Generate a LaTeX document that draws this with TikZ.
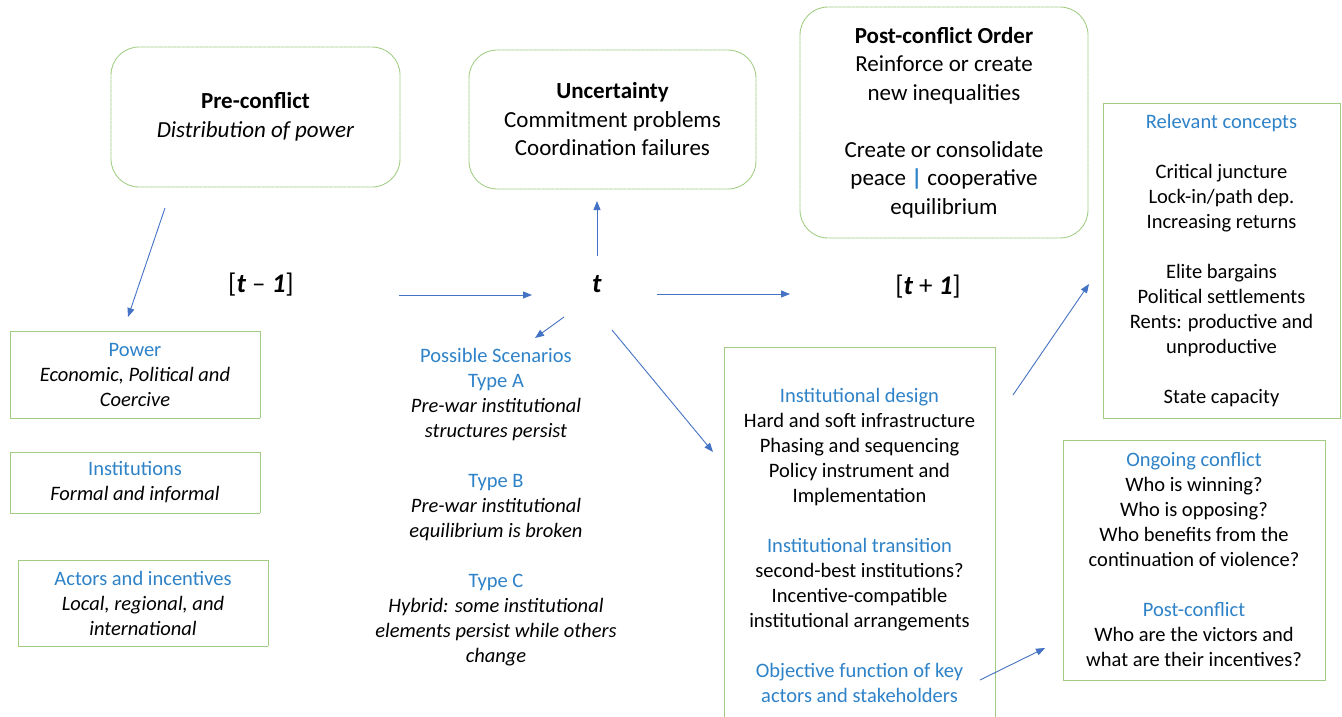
\documentclass[tikz,border=0pt]{standalone}
\usepackage{fontspec}
\setmainfont{Carlito}
\usetikzlibrary{arrows.meta}
\definecolor{boxgreen}{RGB}{160,205,130}
\definecolor{headblue}{RGB}{46,130,200}
\definecolor{arrowblue}{RGB}{68,114,196}
\newcommand{\hb}[1]{\textcolor{headblue}{#1}}
\begin{document}
\begin{tikzpicture}[x=1pt,y=-1pt,
  bigtxt/.style={font=\fontsize{23}{28.5}\selectfont, align=center, inner sep=0pt},
  smalltxt/.style={font=\fontsize{20.5}{25}\selectfont, align=center, inner sep=0pt},
  roundbox/.style={bigtxt, draw=boxgreen, line width=0.9pt, dash pattern=on 0.6pt off 0.3pt, rounded corners=28pt},
  sqbox/.style={smalltxt, draw=boxgreen, line width=0.9pt, dash pattern=on 0.6pt off 0.3pt},
  timelbl/.style={font=\fontsize{27}{32}\selectfont, inner sep=0pt},
  arr/.style={draw=arrowblue, line width=0.9pt, -{Triangle[length=9pt,width=7pt]}}
]
\useasboundingbox (0,0) rectangle (1342,716);

% top rounded boxes
\node[roundbox, minimum width=289pt, minimum height=140pt] (pre) at (255.5,117)
  {\textbf{Pre-conflict}\\ \textit{Distribution of power}};
\node[roundbox, minimum width=287pt, minimum height=139pt] (unc) at (612.5,119.5)
  {\textbf{Uncertainty}\\ Commitment problems\\ Coordination failures};
\node[roundbox, minimum width=288pt, minimum height=231pt] (post) at (944,122.5)
  {\textbf{Post-conflict Order}\\ Reinforce or create\\ new inequalities\\[28.5pt]
   Create or consolidate\\ peace \textcolor{headblue}{\textbf{|}} cooperative\\ equilibrium};

% right boxes
\node[sqbox, minimum width=237pt, minimum height=315pt] (rel) at (1221.5,260.5)
  {\hb{Relevant concepts}\\[25pt] Critical juncture\\ Lock-in/path dep.\\ Increasing returns\\[25pt]
   Elite bargains\\ Political settlements\\ Rents: productive and\\ unproductive\\[25pt] State capacity};
\node[sqbox, minimum width=262pt, minimum height=240pt] (ong) at (1194,560)
  {\hb{Ongoing conflict}\\ Who is winning?\\ Who is opposing?\\ Who benefits from the\\
   continuation of violence?\\[25pt] \hb{Post-conflict}\\ Who are the victors and\\ what are their incentives?};

% institutional design box
\node[sqbox, minimum width=271pt, minimum height=397pt] (inst) at (859.5,545.5)
  {\hb{Institutional design}\\ Hard and soft infrastructure\\ Phasing and sequencing\\ Policy instrument and\\
   Implementation\\[25pt] \hb{Institutional transition}\\ second-best institutions?\\ Incentive-compatible\\
   institutional arrangements\\[25pt] \hb{Objective function of key}\\ \hb{actors and stakeholders}};

% left boxes
\node[sqbox, minimum width=250pt, minimum height=87pt] (pow) at (135,374.5)
  {\hb{Power}\\ \textit{Economic, Political and}\\ \textit{Coercive}};
\node[sqbox, minimum width=250pt, minimum height=61pt] (ins) at (135,482.5)
  {\hb{Institutions}\\ \textit{Formal and informal}};
\node[sqbox, minimum width=250pt, minimum height=86pt] (act) at (143,603)
  {\hb{Actors and incentives}\\ \textit{Local, regional, and}\\ \textit{international}};

% scenarios text
\node[smalltxt] (scen) at (496,507.5)
  {\hb{Possible Scenarios}\\ \hb{Type A}\\ \textit{Pre-war institutional}\\ \textit{structures persist}\\[25pt]
   \hb{Type B}\\ \textit{Pre-war institutional}\\ \textit{equilibrium is broken}\\[25pt]
   \hb{Type C}\\ \textit{Hybrid: some institutional}\\ \textit{elements persist while others}\\ \textit{change}};

% time labels
\node[timelbl] (tm1) at (261,285) {[\textbf{\textit{t}} – \textbf{\textit{1}}]};
\node[timelbl] (t0) at (597,284) {\textbf{\textit{t}}};
\node[timelbl] (tp1) at (928,287) {[\textbf{\textit{t}} + \textbf{\textit{1}}]};

% arrow end points
\coordinate (a1s) at (165,208); \coordinate (a1e) at (128,317);
\coordinate (a2s) at (399,295); \coordinate (a2e) at (532,295);
\coordinate (a3s) at (597,256); \coordinate (a3e) at (597,201);
\coordinate (a4s) at (657,294); \coordinate (a4e) at (790,294);
\coordinate (a5s) at (564,317); \coordinate (a5e) at (535,338);
\coordinate (a6s) at (612,330); \coordinate (a6e) at (713,452);
\coordinate (a7s) at (1013,395); \coordinate (a7e) at (1089,284);
\coordinate (a8s) at (980,680); \coordinate (a8e) at (1045,648);

\draw[arr] (a1s) -- (a1e);
\draw[arr] (a2s) -- (a2e);
\draw[arr] (a3s) -- (a3e);
\draw[arr] (a4s) -- (a4e);
\draw[arr] (a5s) -- (a5e);
\draw[arr] (a6s) -- (a6e);
\draw[arr] (a7s) -- (a7e);
\draw[arr] (a8s) -- (a8e);
\end{tikzpicture}
\end{document}
